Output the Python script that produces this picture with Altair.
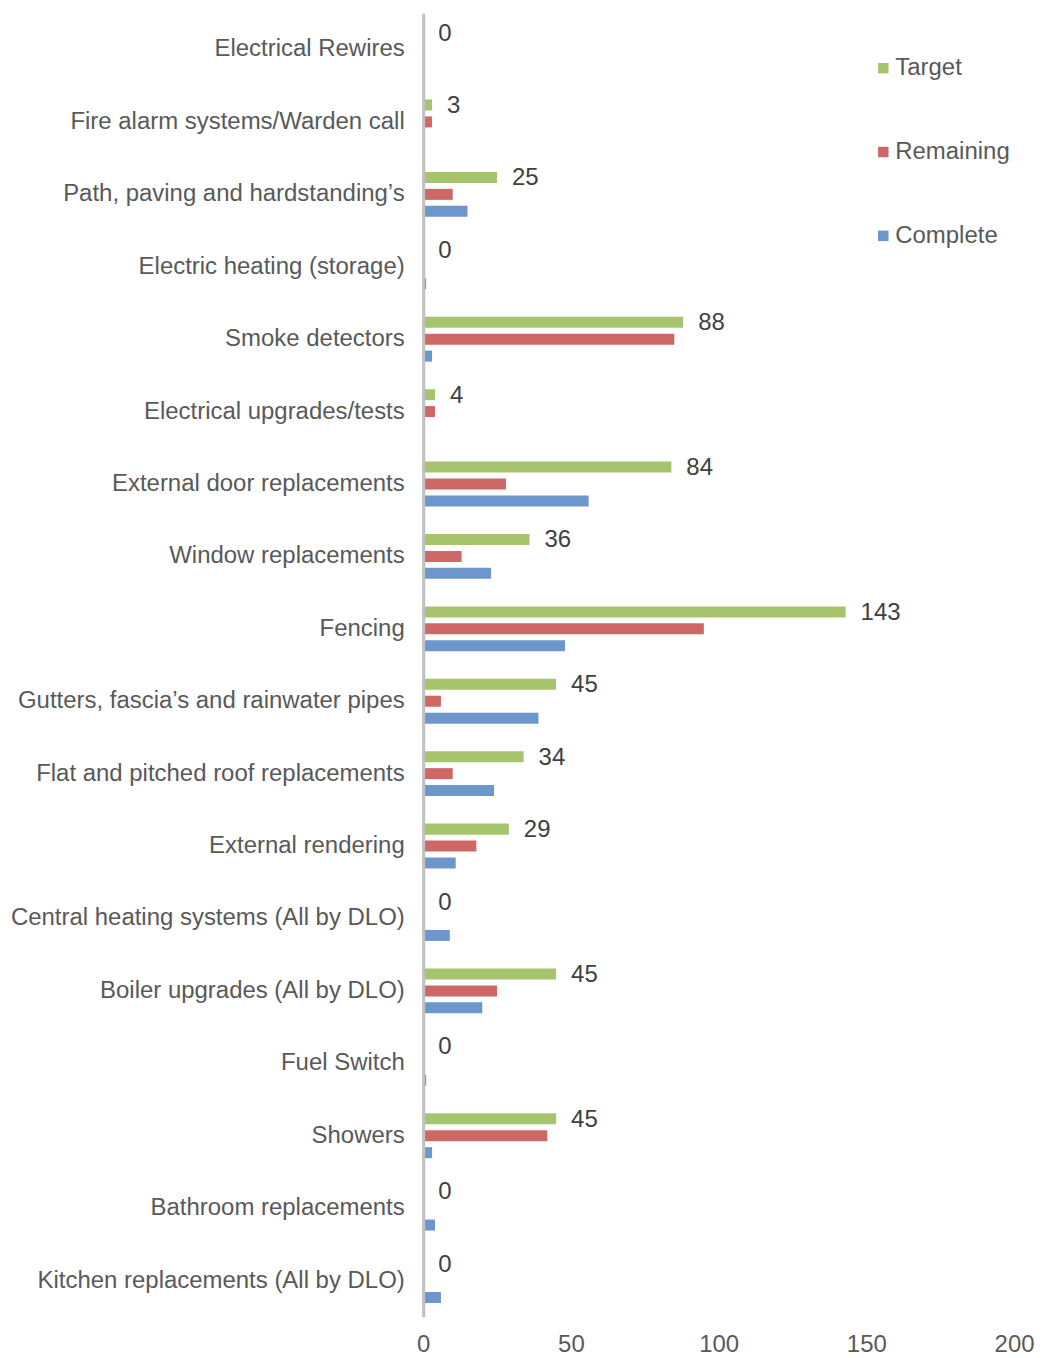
import altair as alt
import pandas as pd

categories = [
    "Electrical Rewires",
    "Fire alarm systems/Warden call",
    "Path, paving and hardstanding\u2019s",
    "Electric heating (storage)",
    "Smoke detectors",
    "Electrical upgrades/tests",
    "External door replacements",
    "Window replacements",
    "Fencing",
    "Gutters, fascia\u2019s and rainwater pipes",
    "Flat and pitched roof replacements",
    "External rendering",
    "Central heating systems (All by DLO)",
    "Boiler upgrades (All by DLO) ",
    "Fuel Switch",
    "Showers",
    "Bathroom replacements",
    "Kitchen replacements (All by DLO)",
]
target = [0, 3, 25, 0, 88, 4, 84, 36, 143, 45, 34, 29, 0, 45, 0, 45, 0, 0]
remaining = [0, 3, 10, 0, 85, 4, 28, 13, 95, 6, 10, 18, 0, 25, 0, 42, 0, 0]
complete = [0, 0, 15, 1, 3, 0, 56, 23, 48, 39, 24, 11, 9, 20, 1, 3, 4, 6]

series = ["Target", "Remaining", "Complete"]
colors = ["#A6C46E", "#CD6866", "#6C96CC"]
x_ticks = [0, 50, 100, 150, 200]

rows = []
for i, c in enumerate(categories):
    for s, vals in zip(series, [target, remaining, complete]):
        rows.append({"category": c, "series": s, "value": vals[i]})
df = pd.DataFrame(rows)

FONT = "Liberation Sans"
FS = 24

y_enc = alt.Y(
    "category:N",
    sort=categories,
    scale=alt.Scale(paddingInner=0.38, paddingOuter=0.19),
    axis=alt.Axis(
        title=None,
        ticks=False,
        domainColor="#BFBFBF",
        domainWidth=3,
        labelFontSize=FS,
        labelColor="#595959",
        labelFont=FONT,
        labelPadding=19,
        labelLimit=600,
        zindex=1,
    ),
)
yoff_enc = alt.YOffset(
    "series:N",
    sort=series,
    scale=alt.Scale(domain=series, paddingInner=0.35, paddingOuter=0),
)
x_enc = alt.X(
    "value:Q",
    scale=alt.Scale(domain=[0, 200], nice=False),
    axis=alt.Axis(
        title=None,
        values=x_ticks,
        grid=False,
        domain=False,
        ticks=False,
        labelFlush=False,
        labelFontSize=FS,
        labelColor="#595959",
        labelFont=FONT,
        labelPadding=16,
    ),
)

bars = alt.Chart(df).mark_bar().encode(
    x=x_enc,
    y=y_enc,
    yOffset=yoff_enc,
    color=alt.Color(
        "series:N",
        sort=series,
        scale=alt.Scale(domain=series, range=colors),
        legend=alt.Legend(
            title=None,
            orient="none",
            legendX=449,
            legendY=43,
            symbolType="square",
            symbolSize=110,
            symbolStrokeWidth=0,
            labelFontSize=FS,
            labelColor="#595959",
            labelFont=FONT,
            rowPadding=60,
            labelOffset=0,
        ),
    ),
)

labels = (
    alt.Chart(df)
    .transform_filter(alt.datum.series == "Target")
    .mark_text(align="left", baseline="middle", dx=15, dy=1, fontSize=FS, font=FONT, color="#404040")
    .encode(x=alt.X("value:Q"), y=alt.Y("category:N", sort=categories), yOffset=yoff_enc, text="value:Q")
)

chart = (
    alt.layer(bars, labels)
    .properties(
        width=592,
        height=1306,
        padding={"left": 2, "top": 4, "right": 0, "bottom": 0},
    )
    .configure_view(strokeWidth=0, stroke=None)
)

chart.save("out.html", embed_options={"renderer": "svg", "actions": False})
